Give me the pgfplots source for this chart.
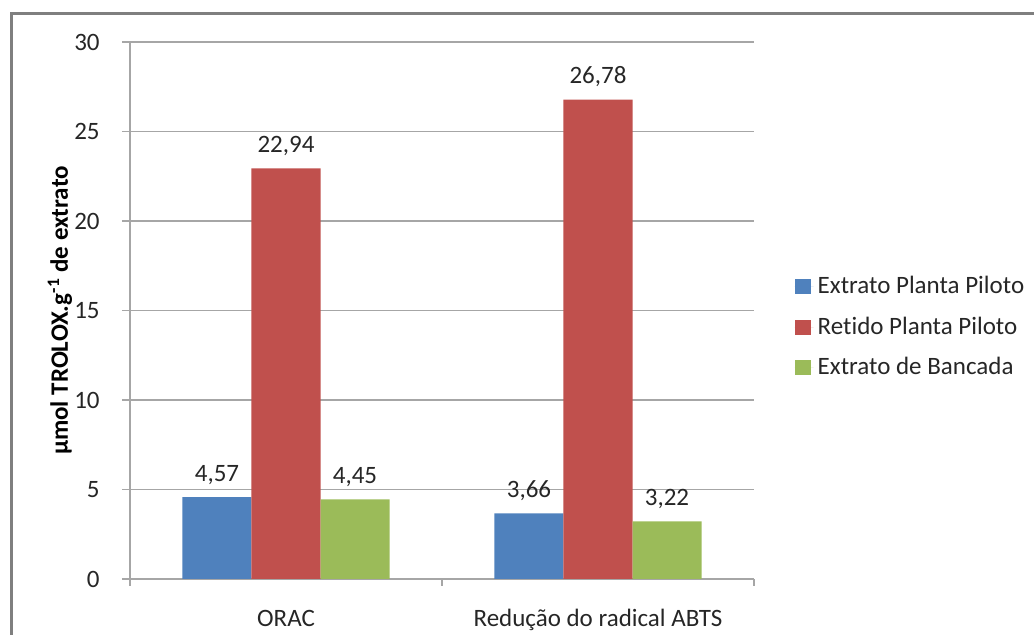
\documentclass[border=0pt]{standalone}
\usepackage{pgfplots}
\pgfplotsset{compat=1.18}
\usepackage{fontspec}
\setmainfont{Carlito}[Ligatures=NoCommon]
\definecolor{cblue}{HTML}{4F81BD}
\definecolor{cred}{HTML}{C0504D}
\definecolor{cgreen}{HTML}{9BBB59}
\definecolor{gridc}{HTML}{A6A6A6}
\definecolor{framec}{HTML}{7F7F7F}
\definecolor{txt}{HTML}{262626}
\begin{document}
\begin{tikzpicture}[x=0.5pt,y=0.5pt,font=\fontsize{12.5}{15}\selectfont]
\useasboundingbox (0,0) rectangle (1034,635);
\draw[framec, line width=1.5pt] (11,-10) -- (11,621) -- (1045,621);
\begin{axis}[
  at={(65pt,28pt)}, anchor=south west,
  scale only axis, width=312pt, height=268.5pt,
  xmin=-0.5, xmax=1.5, ymin=0, ymax=30,
  ytick={0,5,...,30},
  xtick={0,1}, xticklabels={ORAC, Redução do radical ABTS},
  major x tick style={draw=none},
  minor xtick={-0.5,0.5,1.5},
  axis x line*=bottom, axis y line*=left,
  axis line style={-, gridc, line width=0.6pt},
  ymajorgrids, grid style={gridc, line width=0.6pt},
  tick align=outside,
  tick style={gridc, line width=0.6pt},
  major tick length=4pt, minor tick length=3.5pt,
  /pgf/number format/assume math mode=true,
  yticklabel style={anchor=east, inner sep=0pt, xshift=-11pt, text=txt},
  xticklabel style={anchor=base, inner sep=0pt, yshift=-20pt, text=txt},
  ylabel={\textbf{µmol TROLOX.g\textsuperscript{-1} de extrato}},
  ylabel style={at={(axis description cs:-0.1122,0.5)}, anchor=center, text=black},
  ybar, bar width=0.2212,
  nodes near coords,
  nodes near coords style={anchor=base, inner sep=0pt, yshift=8pt, text=txt,
    /pgf/number format/.cd, fixed, fixed zerofill, precision=2, use comma, assume math mode=true},
  legend style={draw=none, fill=none, at={(1.055,0.469)}, anchor=west,
    legend cell align=left, row sep=6pt, text=txt, font=\fontsize{12.5}{15}\selectfont},
  legend image code/.code={\fill[#1] (0pt,-3.8pt) rectangle (8pt,3.8pt); \path (0pt,0pt) -- (9.5pt,0pt);},
]
\addplot[fill=cblue, draw=none, bar shift=-0.2212] coordinates {(0,4.57) (1,3.66)};
\addplot[fill=cred, draw=none, bar shift=0] coordinates {(0,22.94) (1,26.78)};
\addplot[fill=cgreen, draw=none, bar shift=0.2212] coordinates {(0,4.45) (1,3.22)};
\legend{Extrato Planta Piloto, Retido Planta Piloto, Extrato de Bancada}
\end{axis}
\end{tikzpicture}
\end{document}
